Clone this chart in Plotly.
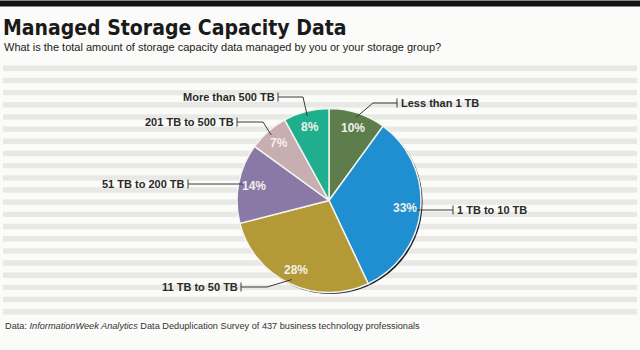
import math
import plotly.graph_objects as go

# ---- data ----
categories = ["Less than 1 TB", "1 TB to 10 TB", "11 TB to 50 TB",
              "51 TB to 200 TB", "201 TB to 500 TB", "More than 500 TB"]
shares = [10, 33, 28, 14, 7, 8]
colors = ["#5d7d4c", "#1f8fd2", "#b39a37", "#8a78a6", "#c9aeb1", "#1fae8e"]

title = "Managed Storage Capacity Data"
subtitle = "What is the total amount of storage capacity data managed by you or your storage group?"
source_html = "Data: <i>InformationWeek Analytics</i> Data Deduplication Survey of 437 business technology professionals"

# ---- layout constants (pixels) ----
W, H = 640, 350
CX, CY, R = 329.0, 200.5, 92.0
# label placement: (bar x, label y, elbow x, side)
label_layout = {
    "Less than 1 TB":   (397, 103, 373, "right"),
    "1 TB to 10 TB":    (453, 210, None, "right"),
    "11 TB to 50 TB":   (241, 287, 267, "left"),
    "51 TB to 200 TB":  (188, 184, None, "left"),
    "201 TB to 500 TB": (237, 122, 263, "left"),
    "More than 500 TB": (278, 97, 303, "left"),
}

def px(x):
    return x / W

def py(y):
    return 1 - y / H

fig = go.Figure()

# shadow rim (bottom-right)
off = 1.6
fig.add_trace(go.Pie(
    values=[1], labels=["rim"], marker=dict(colors=["#1c2030"], line=dict(width=0)),
    domain=dict(x=[px(CX - R + off), px(CX + R + off)], y=[py(CY + R + off), py(CY - R + off)]),
    textinfo="none", hoverinfo="skip", showlegend=False, sort=False,
))

fig.add_trace(go.Pie(
    labels=categories, values=shares, sort=False, direction="clockwise", rotation=0,
    marker=dict(colors=colors, line=dict(color="#f4f4ef", width=1.5)),
    domain=dict(x=[px(CX - R), px(CX + R)], y=[py(CY + R), py(CY - R)]),
    textinfo="none", hoverinfo="label+percent", showlegend=False,
))

shapes = []
# top black bar
shapes.append(dict(type="rect", xref="paper", yref="paper", x0=0, x1=1, y0=py(6.5), y1=py(0.5),
                   fillcolor="#141414", line=dict(width=0), layer="below"))
# background stripes
for i in range(21):
    yc = 68.3 + i * 12.17
    shapes.append(dict(type="rect", xref="paper", yref="paper", x0=px(3), x1=px(637),
                       y0=py(yc + 2.7), y1=py(yc - 2.7), fillcolor="#e8e9e5",
                       line=dict(width=0), layer="below"))

annotations = []
total = sum(shares)
cum = 0.0
for cat, v in zip(categories, shares):
    mid = (cum + v / 2) / total * 2 * math.pi
    cum += v
    s, c = math.sin(mid), math.cos(mid)
    # percentage text
    tx, ty = CX + 0.83 * R * s, CY - 0.83 * R * c
    annotations.append(dict(x=px(tx), y=py(ty), xref="paper", yref="paper", text=f"{v}%",
                            showarrow=False, xanchor="center", yanchor="middle",
                            font=dict(family="Liberation Sans, Arial, sans-serif", size=12,
                                      color="#f1f1ea", weight="bold")))
    # leader line
    ax, ay = CX + 0.95 * R * s, CY - 0.95 * R * c
    bx, ly, ex, side = label_layout[cat]
    if ex is None:
        pts = [(bx, ly), (ax, ly)]
    else:
        pts = [(bx, ly), (ex, ly), (ax, ay)]
    for (x0, y0), (x1, y1) in zip(pts[:-1], pts[1:]):
        shapes.append(dict(type="line", xref="paper", yref="paper", x0=px(x0), y0=py(y0),
                           x1=px(x1), y1=py(y1), line=dict(color="#3a3a3a", width=1)))
    shapes.append(dict(type="line", xref="paper", yref="paper", x0=px(bx), y0=py(ly - 4.5),
                       x1=px(bx), y1=py(ly + 4.5), line=dict(color="#3a3a3a", width=1)))
    if side == "left":
        annotations.append(dict(x=px(bx - 1.5), y=py(ly), xref="paper", yref="paper", text=cat,
                                showarrow=False, xanchor="right", yanchor="middle",
                                font=dict(family="Liberation Sans, Arial, sans-serif", size=11,
                                          color="#2a2a2a", weight="bold")))
    else:
        annotations.append(dict(x=px(bx + 1.5), y=py(ly), xref="paper", yref="paper", text=cat,
                                showarrow=False, xanchor="left", yanchor="middle",
                                font=dict(family="Liberation Sans, Arial, sans-serif", size=11,
                                          color="#2a2a2a", weight="bold")))

annotations.append(dict(x=px(1), y=py(28), xref="paper", yref="paper", text=title,
                        showarrow=False, xanchor="left", yanchor="middle",
                        font=dict(family="DejaVu Sans Condensed, sans-serif",
                                  size=21, color="#1a1a1a", weight="bold")))
annotations.append(dict(x=px(2), y=py(47), xref="paper", yref="paper", text=subtitle,
                        showarrow=False, xanchor="left", yanchor="middle",
                        font=dict(family="Liberation Sans, Arial, sans-serif", size=11, color="#222222")))
annotations.append(dict(x=px(3), y=py(326), xref="paper", yref="paper", text=source_html,
                        showarrow=False, xanchor="left", yanchor="middle",
                        font=dict(family="Liberation Sans, Arial, sans-serif", size=9.2, color="#333333")))

fig.update_layout(
    width=W, height=H, margin=dict(l=0, r=0, t=0, b=0),
    paper_bgcolor="#fbfbf9", plot_bgcolor="#fbfbf9",
    shapes=shapes, annotations=annotations, showlegend=False,
)

fig.write_html("out.html", config={"displayModeBar": False})
